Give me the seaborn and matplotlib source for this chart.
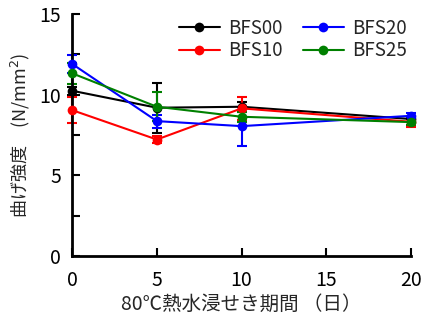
import matplotlib
matplotlib.use("Agg")
import matplotlib.pyplot as plt
import seaborn as sns
import pandas as pd
import numpy as np

days = [0, 5, 10, 20]
series = ["BFS00", "BFS10", "BFS20", "BFS25"]
colors = ["black", "red", "blue", "green"]
bfs00 = [10.24, 9.19, 9.25, 8.49]
bfs10 = [9.04, 7.22, 9.15, 8.32]
bfs20 = [11.90, 8.36, 8.05, 8.69]
bfs25 = [11.32, 9.25, 8.63, 8.30]
err00 = [0.25, 1.55, 0.30, 0.20]
err10 = [0.80, 0.22, 0.70, 0.30]
err20 = [0.56, 0.40, 1.20, 0.15]
err25 = [0.66, 0.90, 0.30, 0.20]

values = [bfs00, bfs10, bfs20, bfs25]
errs = [err00, err10, err20, err25]

df = pd.DataFrame({
    "day": days * 4,
    "value": sum(values, []),
    "series": np.repeat(series, len(days)),
})

sns.set_style("ticks")
plt.rcParams['font.family'] = ['Noto Sans CJK JP', 'DejaVu Sans']

fig = plt.figure(figsize=(4.22, 3.23), dpi=100)
ax = fig.add_axes([0.171, 0.207, 0.803, 0.750])

for s, c, v, e in zip(series, colors, values, errs):
    ax.errorbar(days, v, yerr=e, fmt="none", ecolor=c, elinewidth=1.5, capsize=3.5, capthick=1.5, zorder=2)

sns.lineplot(data=df, x="day", y="value", hue="series", palette=colors, hue_order=series,
             marker="o", markersize=7, markeredgewidth=0, linewidth=1.5, ax=ax, zorder=3)

ax.set_xlim(0, 20)
ax.set_ylim(0, 15)
ax.set_xticks([0, 5, 10, 15, 20])
ax.set_yticks([0, 5, 10, 15])
ax.set_yticks([2.5, 7.5, 12.5], minor=True)
ax.tick_params(axis="both", which="both", direction="in", width=1.5, labelsize=14, colors="black")
ax.tick_params(axis="both", which="major", length=6)
ax.tick_params(axis="y", which="minor", length=6)
ax.tick_params(axis="x", pad=10)
ax.tick_params(axis="y", pad=8)
for sp in ["top", "right"]:
    ax.spines[sp].set_visible(False)
for sp in ["left", "bottom"]:
    ax.spines[sp].set_linewidth(2)
    ax.spines[sp].set_color("black")
for ln in ax.lines:
    ln.set_clip_on(False)
for coll in ax.collections:
    coll.set_clip_on(False)

ax.set_xlabel("80℃熱水浸せき期間 （日）", fontsize=14, labelpad=2)
ax.set_ylabel("曲げ強度　(N/mm$^2$)", fontsize=13, labelpad=5)

ax.legend(title=None, ncol=2, frameon=False, loc="upper right", bbox_to_anchor=(1.0, 1.0),
          fontsize=13.5, handlelength=2.2, handletextpad=0.45, columnspacing=1.05,
          labelspacing=0.08, borderaxespad=0.0, borderpad=0.2)

fig.savefig("out.png", dpi=100)
